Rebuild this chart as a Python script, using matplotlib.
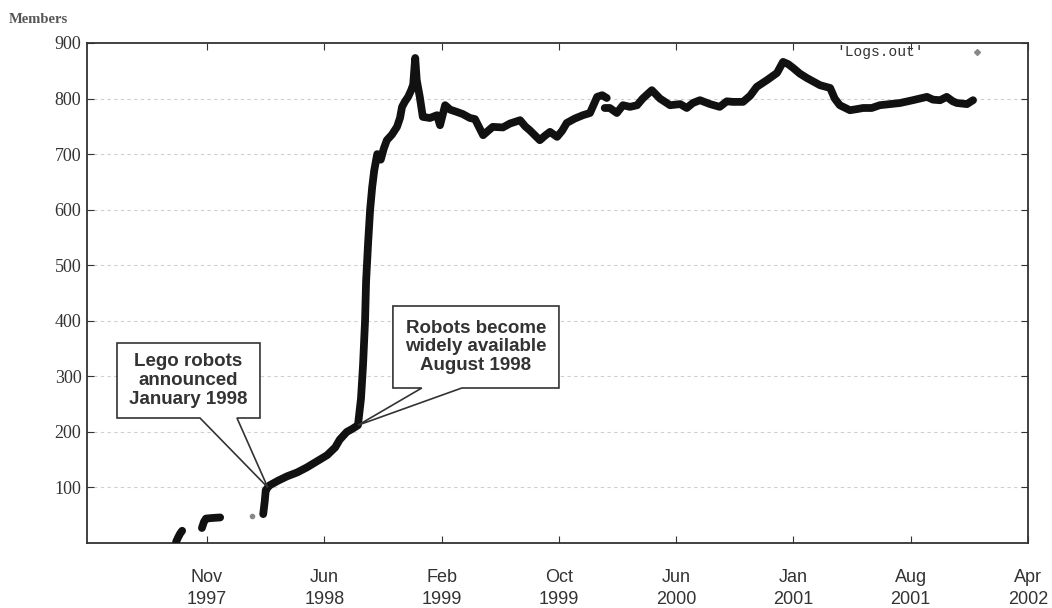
import matplotlib
matplotlib.use("Agg")
import matplotlib.pyplot as plt
from matplotlib import font_manager
from matplotlib.patches import Polygon

# ---- data: days since the first tick (Nov 1997), members logged ----
seg1_days = [-61, -57, -53, -49]
seg1_members = [2, 10, 17, 22]

seg2_days = [-10, -6, -2, 10, 26]
seg2_members = [27, 38, 44, 45, 46]

dot_days = [89]
dot_members = [48]

seg3_days = [111, 114, 116, 120, 124, 140, 158, 178, 197, 217, 237, 253, 262,
             276, 286, 298, 304, 308, 312, 314, 318, 322, 326, 330, 336, 343,
             349, 355, 365, 375, 381, 385, 391, 397, 403, 407, 411, 414, 420,
             426, 440, 454, 460, 470, 480, 493, 505, 519, 529, 545, 555, 564,
             584, 598, 618, 628, 637, 657, 667, 677, 691, 701, 710, 726, 742,
             756, 770, 780, 789]
seg3_members = [52, 75, 95, 100, 104, 112, 120, 127, 136, 147, 158, 172, 186,
                200, 205, 212, 260, 320, 400, 470, 540, 600, 640, 670, 700, 690,
                710, 725, 735, 749, 765, 785, 795, 803, 815, 825, 873, 833, 803,
                767, 765, 770, 752, 788, 780, 776, 772, 765, 763, 734, 742, 749,
                748, 755, 761, 750, 743, 725, 733, 740, 731, 742, 756, 764, 770,
                774, 803, 806, 801]

seg4_days = [785, 795, 809, 821, 835, 849, 860, 878, 894, 914, 934, 947, 959,
             973, 993, 1012, 1026, 1038, 1058, 1072, 1085, 1105, 1125, 1137,
             1147, 1157, 1170, 1184, 1210, 1230, 1239, 1249, 1269, 1283, 1295,
             1312, 1328, 1348, 1368, 1393, 1407, 1421, 1433, 1447, 1460, 1472,
             1480, 1500, 1512]
seg4_members = [783, 783, 774, 788, 785, 788, 800, 815, 800, 788, 790, 783, 792,
                797, 790, 785, 795, 794, 794, 805, 821, 833, 846, 866, 862, 855,
                845, 837, 824, 819, 800, 788, 779, 781, 783, 783, 788, 790, 792,
                797, 800, 803, 798, 797, 803, 795, 792, 790, 797]

tick_step = 231.5  # days between date ticks
tick_labels = ["Nov\n1997", "Jun\n1998", "Feb\n1999", "Oct\n1999",
               "Jun\n2000", "Jan\n2001", "Aug\n2001", "Apr\n2002"]
y_ticks = [100, 200, 300, 400, 500, 600, 700, 800, 900]

note1_text = "Lego robots\nannounced\nJanuary 1998"
note1_point = (120, 100)
note2_text = "Robots become\nwidely available\nAugust 1998"
note2_point = (298, 212)


def pick_font(names, fallback):
    available = {f.name for f in font_manager.fontManager.ttflist}
    for n in names:
        if n in available:
            return n
    return fallback


narrow = pick_font(["Liberation Sans Narrow"], None)
serif = pick_font(["Liberation Serif", "DejaVu Serif"], "serif")
sans = pick_font(["Liberation Sans", "Arimo"], "DejaVu Sans")
mono = pick_font(["Liberation Mono", "DejaVu Sans Mono"], "monospace")

fig = plt.figure(figsize=(10.52, 6.08), dpi=100)
ax = fig.add_axes([0.0827, 0.1069, 0.8945, 0.8224])

ink = "#111111"
for d, m in [(seg1_days, seg1_members), (seg2_days, seg2_members),
             (seg3_days, seg3_members), (seg4_days, seg4_members)]:
    ax.plot(d, m, color=ink, lw=5.6, solid_capstyle="round",
            solid_joinstyle="round", zorder=3)
ax.plot(dot_days, dot_members, "o", color="#888888", ms=3, zorder=3)

ax.set_xlim(-236.8, 7 * tick_step)
ax.set_ylim(0, 900)

ax.set_xticks([k * tick_step for k in range(len(tick_labels))])
if narrow:
    ax.set_xticklabels(tick_labels, fontsize=15, family=narrow, color="#333333",
                       linespacing=1.3)
else:
    ax.set_xticklabels(tick_labels, fontsize=13, family=sans, color="#333333",
                       linespacing=1.35)
ax.tick_params(axis="x", direction="in", length=5, pad=19, top=True,
               color="#333333")

ax.set_yticks(y_ticks)
ax.set_yticklabels([str(v) for v in y_ticks], fontsize=13, family=serif,
                   color="#333333")
ax.tick_params(axis="y", direction="in", length=5, pad=4, right=True,
               color="#333333")

for v in y_ticks[:-1]:
    ax.axhline(v, color="#cfcfcf", lw=0.8, ls=(0, (3, 3)), zorder=1)

for s in ax.spines.values():
    s.set_color("#333333")
    s.set_linewidth(1.3)

fig.text(0.008, 0.968, "Members", fontsize=10.5, family=serif,
         fontweight="bold", color="#555555", va="center", ha="left")

# series key in the upper right corner
ax.text(0.843, 0.981, "'Logs.out'", transform=ax.transAxes, fontsize=10.5,
        family=mono, color="#333333", ha="center", va="center")
ax.plot([0.946], [0.981], marker="D", ms=3, color="#888888",
        transform=ax.transAxes, clip_on=False)


def callout(box, base, tip, text):
    x0, x1, y0, y1 = box
    b0, b1 = base
    verts = [(x0, y0), (b0, y0), tip, (b1, y0), (x1, y0), (x1, y1), (x0, y1)]
    ax.add_patch(Polygon(verts, closed=True, facecolor="white",
                         edgecolor="#333333", lw=1.2, zorder=4))
    ax.text((x0 + x1) / 2, (y0 + y1) / 2, text, ha="center", va="center",
            fontsize=13.5, fontweight="bold", family=sans, color="#333333",
            linespacing=1.15, zorder=5)


callout((-177.6, 104.6, 225, 360), (-13.8, 59.2), note1_point, note1_text)
callout((367, 694.7, 279, 426.6), (424, 503), note2_point, note2_text)

fig.savefig("out.png", dpi=100, facecolor="white")
